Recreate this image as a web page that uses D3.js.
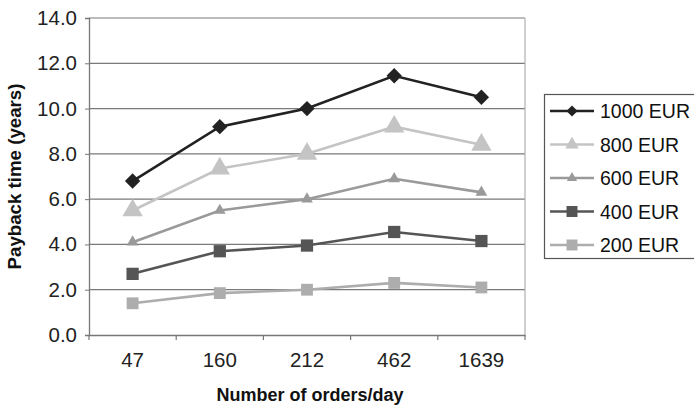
<!DOCTYPE html>
<html>
<head>
<meta charset="utf-8">
<script src="https://cdn.jsdelivr.net/npm/d3@7/dist/d3.min.js"></script>
<style>
  html, body { margin: 0; padding: 0; background: #fff; }
  svg { display: block; font-family: Arial, "Liberation Sans", sans-serif; }
</style>
</head>
<body>
<svg id="chart" width="694" height="405"></svg>
<script>
// Orders per day (category axis)
const categories = ["47", "160", "212", "462", "1639"];

// Payback time in years for each investment level
const series1000 = [6.8, 9.2, 10.0, 11.45, 10.5];
const series800  = [5.5, 7.35, 8.0, 9.2, 8.4];
const series600  = [4.1, 5.5, 6.0, 6.9, 6.3];
const series400  = [2.7, 3.7, 3.95, 4.55, 4.15];
const series200  = [1.4, 1.85, 2.0, 2.3, 2.1];

const seriesNames = ["1000 EUR", "800 EUR", "600 EUR", "400 EUR", "200 EUR"];
const yTicks = [0, 2, 4, 6, 8, 10, 12, 14];

const styles = [
  { color: "#222222", symbol: d3.symbolDiamond2, size: 150, legendSize: 80 },
  { color: "#c4c4c4", symbol: d3.symbolTriangle, size: 180, legendSize: 80 },
  { color: "#9a9a9a", symbol: d3.symbolTriangle, size: 60,  legendSize: 45 },
  { color: "#555555", symbol: d3.symbolSquare,   size: 150, legendSize: 120 },
  { color: "#adadad", symbol: d3.symbolSquare,   size: 140, legendSize: 120 }
];

const allSeries = [series1000, series800, series600, series400, series200];

const svg = d3.select("#chart");
const plot = { left: 89, right: 525, top: 18, bottom: 335 };

const x = d3.scaleBand().domain(categories).range([plot.left, plot.right]);
const y = d3.scaleLinear().domain([0, 14]).range([plot.bottom, plot.top]);

// Horizontal gridlines
svg.append("g")
  .selectAll("line")
  .data(yTicks.filter(t => t > 0))
  .join("line")
  .attr("x1", plot.left).attr("x2", plot.right)
  .attr("y1", d => y(d)).attr("y2", d => y(d))
  .attr("stroke", "#7a7a7a").attr("stroke-width", 1.2);

// Right border of plot area
svg.append("line")
  .attr("x1", plot.right).attr("x2", plot.right)
  .attr("y1", plot.top).attr("y2", plot.bottom)
  .attr("stroke", "#b0b0b0").attr("stroke-width", 1.2);

// Y axis
const yAxis = svg.append("g")
  .attr("transform", `translate(${plot.left},0)`)
  .call(d3.axisLeft(y).tickValues(yTicks).tickFormat(d3.format(".1f")).tickSize(4).tickPadding(8));
yAxis.select(".domain").attr("stroke", "#777").attr("stroke-width", 1.3);
yAxis.selectAll(".tick line").attr("stroke", "#777");
yAxis.selectAll(".tick text")
  .attr("font-size", 20.5).attr("fill", "#222")
  .attr("font-family", "Arial, 'Liberation Sans', sans-serif");

// X axis with ticks at band edges
const xAxis = svg.append("g")
  .attr("transform", `translate(0,${plot.bottom})`)
  .call(d3.axisBottom(x).tickSize(0).tickPadding(17));
xAxis.select(".domain").attr("stroke", "#777").attr("stroke-width", 1.3);
xAxis.selectAll(".tick text")
  .attr("font-size", 20.5).attr("fill", "#222")
  .attr("font-family", "Arial, 'Liberation Sans', sans-serif");
const edges = categories.map(c => x(c)).concat([x.range()[1]]);
svg.append("g").selectAll("line").data(edges).join("line")
  .attr("x1", d => d).attr("x2", d => d)
  .attr("y1", plot.bottom).attr("y2", plot.bottom + 5)
  .attr("stroke", "#777").attr("stroke-width", 1.2);

// Axis titles
svg.append("text")
  .attr("transform", `translate(21,${(plot.top + plot.bottom) / 2}) rotate(-90)`)
  .attr("text-anchor", "middle")
  .attr("font-size", 18.7).attr("font-weight", "bold").attr("fill", "#111")
  .text("Payback time (years)");

svg.append("text")
  .attr("x", (plot.left + plot.right) / 2 + 3).attr("y", 401)
  .attr("text-anchor", "middle")
  .attr("font-size", 18).attr("font-weight", "bold").attr("fill", "#111")
  .text("Number of orders/day");

// Series lines and markers
const line = d3.line()
  .x((d, i) => x(categories[i]) + x.bandwidth() / 2)
  .y(d => y(d));

allSeries.forEach((values, k) => {
  const st = styles[k];
  const g = svg.append("g");
  g.append("path")
    .datum(values)
    .attr("d", line)
    .attr("fill", "none")
    .attr("stroke", st.color)
    .attr("stroke-width", 2.6);
  g.selectAll("path.mark")
    .data(values)
    .join("path")
    .attr("class", "mark")
    .attr("transform", (d, i) => `translate(${x(categories[i]) + x.bandwidth() / 2},${y(d)})`)
    .attr("d", d3.symbol().type(st.symbol).size(st.size))
    .attr("fill", st.color);
});

// Legend
const legend = svg.append("g");
legend.append("rect")
  .attr("x", 544.5).attr("y", 94.5).attr("width", 160).attr("height", 164)
  .attr("fill", "#fff").attr("stroke", "#555").attr("stroke-width", 1.2);

seriesNames.forEach((name, k) => {
  const st = styles[k];
  const cy = 111 + k * 33.5;
  legend.append("line")
    .attr("x1", 550).attr("x2", 594).attr("y1", cy).attr("y2", cy)
    .attr("stroke", st.color).attr("stroke-width", 2.6);
  legend.append("path")
    .attr("transform", `translate(572,${cy})`)
    .attr("d", d3.symbol().type(st.symbol).size(st.legendSize))
    .attr("fill", st.color);
  legend.append("text")
    .attr("x", 600).attr("y", cy + 7)
    .attr("font-size", 19.5).attr("fill", "#111")
    .text(name);
});
</script>
</body>
</html>
